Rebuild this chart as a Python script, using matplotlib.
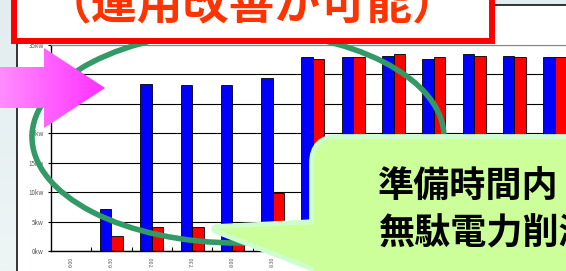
import numpy as np
import matplotlib
matplotlib.use('Agg')
import matplotlib.pyplot as plt
from matplotlib.patches import Rectangle, Polygon, Ellipse, FancyBboxPatch
from matplotlib.colors import LinearSegmentedColormap
from matplotlib.ticker import FixedLocator

plt.rcParams['font.family'] = ['Noto Sans CJK JP', 'DejaVu Sans']

# ---- data ----
times = ["6:00", "6:30", "7:00", "7:30", "8:00", "8:30", "9:00",
         "9:30", "10:00", "10:30", "11:00", "11:30", "12:00"]
before_kw = [0, 7.1, 28.4, 28.2, 28.2, 29.4, 33.0, 33.0, 33.2, 32.7, 33.4, 33.2, 33.0]
after_kw = [0, 2.5, 4.1, 4.1, 3.9, 9.8, 32.7, 33.0, 33.4, 33.0, 33.2, 33.0, 33.0]
ytick_values = [0, 5, 10, 15, 20, 25, 30, 35]
ytick_labels = ["0kw", "5kw", "10kw", "15kw", "20kw", "25kw", "30kw", "35kw"]
title_text = "（運用改善が可能）"
callout_lines = ["準備時間内", "無駄電力削減"]

W, H = 566, 271
fig = plt.figure(figsize=(W / 100, H / 100), dpi=100)

# ---- background panel ----
bg = fig.add_axes([0, 0, 1, 1], zorder=0)
bg.axis('off')
cmap_bg = LinearSegmentedColormap.from_list('bg', ['#e2edf0', '#eef5f5'])
bg.imshow(np.linspace(0, 1, 100).reshape(-1, 1), cmap=cmap_bg,
          extent=(0, W, H, 0), aspect='auto')
bg.add_patch(Rectangle((17, 5), 700, 400, facecolor='white',
                       edgecolor='black', lw=1.1))
bg.set_xlim(0, W)
bg.set_ylim(H, 0)

# ---- chart ----
gw = 40.3
ax = fig.add_axes([51 / W, (H - 251) / H, len(times) * gw / W, 206 / H], zorder=1)
x = np.arange(len(times))
bw = 0.285
ax.bar(x - bw / 2, before_kw, bw, color='#0000ff', edgecolor='black', lw=0.6)
ax.bar(x + bw / 2, after_kw, bw, color='#ff0000', edgecolor='black', lw=0.6)
ax.set_xlim(-0.5, len(times) - 0.5)
ax.set_ylim(0, 35)
ax.set_yticks(ytick_values)
ax.set_yticklabels(ytick_labels, fontsize=4.5, color='#555555')
ax.yaxis.grid(True, color='black', lw=0.8)
ax.set_axisbelow(True)
ax.set_xticks(x)
ax.set_xticklabels(times, rotation=90, fontsize=3.8, color='#555555')
ax.xaxis.set_minor_locator(FixedLocator(x[:-1] + 0.5))
ax.tick_params(axis='x', which='major', length=0, pad=4)
ax.tick_params(axis='x', which='minor', length=3, direction='in', width=0.8)
ax.tick_params(axis='y', length=2, width=0.8, pad=3)
ax.spines['top'].set_color('#888888')
ax.spines['top'].set_linewidth(0.8)
ax.spines['right'].set_visible(False)
ax.spines['left'].set_linewidth(1.0)
ax.spines['bottom'].set_linewidth(1.0)

# ---- overlay annotations ----
ov = fig.add_axes([0, 0, 1, 1], zorder=2)
ov.axis('off')
ov.patch.set_alpha(0)

ov.add_patch(Ellipse((238, 137), 412, 212, fill=False,
                     edgecolor='#339966', lw=4, zorder=1))

ov.add_patch(Rectangle((14, -20), 478, 61, facecolor='white',
                       edgecolor='#ff0000', lw=4.3, zorder=2))
ov.text(252, 6, title_text, color='#ff3300', fontsize=33,
        fontweight='bold', ha='center', va='center', zorder=3)

arrow_pts = [(-5, 67), (44, 67), (44, 48), (105, 88), (44, 128), (44, 108), (-5, 108)]
arrow = Polygon(arrow_pts, closed=True, facecolor='none', edgecolor='none', zorder=3)
ov.add_patch(arrow)
cmap_pk = LinearSegmentedColormap.from_list('pk', ['#ff90ff', '#ff30ff'])
im = ov.imshow(np.linspace(0, 1, 100).reshape(1, -1), cmap=cmap_pk,
               extent=(-5, 105, 128, 48), aspect='auto', zorder=3)
im.set_clip_path(arrow)

# callout: outline layer then fill layer
ptr = [(216, 229), (335, 223), (335, 275)]
for edge, lw, fc, z in [('#ccffcc', 7, '#ccffcc', 4), ('none', 0, '#ccff99', 5)]:
    ov.add_patch(FancyBboxPatch((314, 139), 320, 200,
                                boxstyle='round,pad=0,rounding_size=24',
                                facecolor=fc, edgecolor=edge, lw=lw,
                                joinstyle='round', zorder=z))
    ov.add_patch(Polygon(ptr, closed=True, facecolor=fc, edgecolor=edge,
                         lw=lw, joinstyle='round', zorder=z))

ov.text(378, 186, callout_lines[0], fontsize=26, fontweight='bold',
        color='black', ha='left', va='center', zorder=6)
ov.text(378, 234, callout_lines[1], fontsize=26, fontweight='bold',
        color='black', ha='left', va='center', zorder=6)

ov.set_xlim(0, W)
ov.set_ylim(H, 0)

fig.savefig('out.png', dpi=100)
